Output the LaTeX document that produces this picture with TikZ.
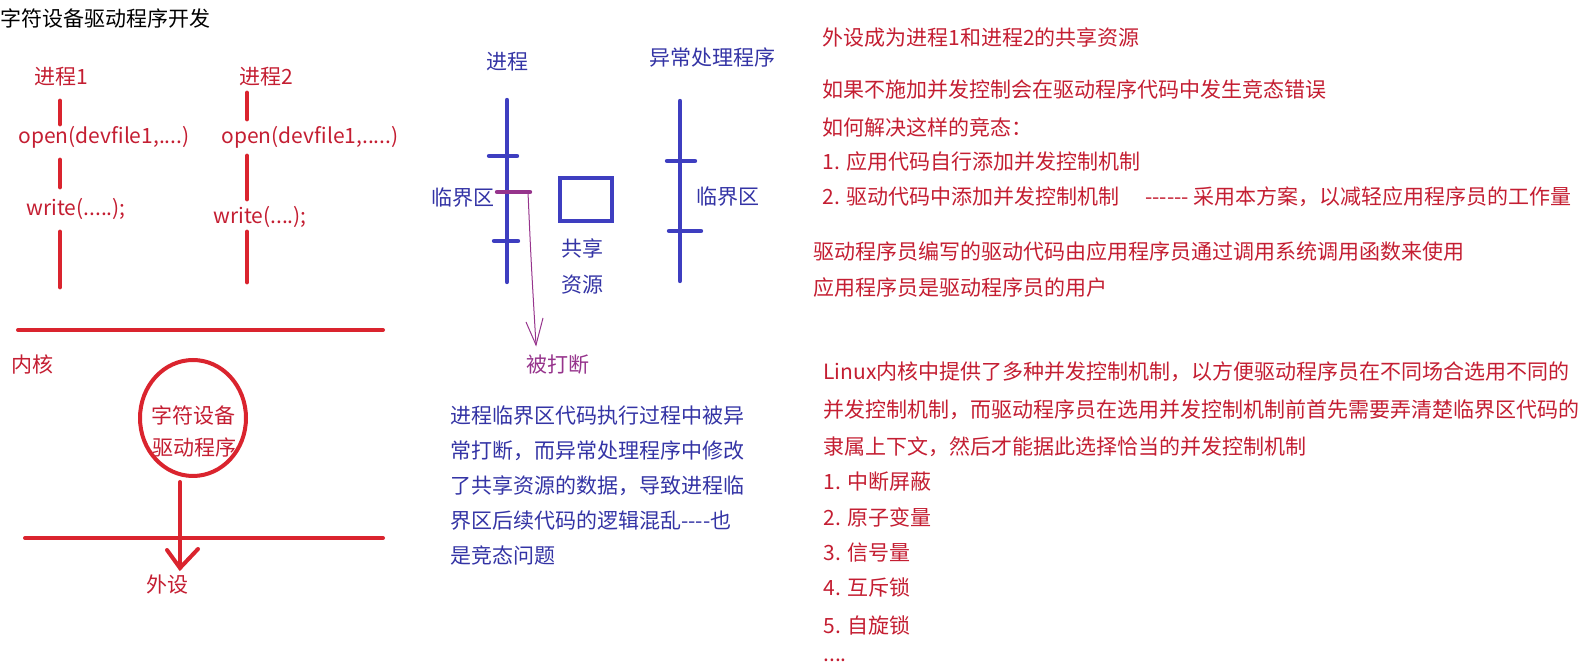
\documentclass[tikz,border=0pt]{standalone}
\usepackage{fontspec}
\setmainfont{Noto Sans CJK SC}
\usetikzlibrary{shapes.geometric}
\definecolor{rd}{RGB}{218,36,46}
\definecolor{rdt}{RGB}{196,30,50}
\definecolor{bl}{RGB}{62,62,192}
\definecolor{blt}{RGB}{52,52,165}
\definecolor{pu}{RGB}{150,52,140}
\newcommand{\hy}{-{}}
\begin{document}
\begin{tikzpicture}[x=0.5pt,y=-0.5pt,
  txt/.style={inner sep=0pt, font=\fontsize{10.5}{12}\selectfont},
  rt/.style={txt, text=rdt},
  bt/.style={txt, text=blt},
  redline/.style={draw=rd, line width=2.4pt, line cap=round},
  kline/.style={draw=rd, line width=2pt, line cap=round},
  blueline/.style={draw=bl, line width=2.2pt, line cap=round},
  purline/.style={draw=pu, line width=0.5pt},
]
\useasboundingbox (0,0) rectangle (1586,672);

% ---------- left part ----------
\node[txt, anchor=west] (title) at (0,18) {字符设备驱动程序开发};
\node[rt] (p1) at (61,77) {进程1};
\node[rt] (p2) at (266,77) {进程2};
\node[rt] (open1) at (104,137) {open(devfile1,....)};
\node[rt] (open2) at (310,137) {open(devfile1,.....)};
\node[rt] (write1) at (76,209) {write(.....);};
\node[rt] (write2) at (260,217) {write(....);};

\draw[redline] (60,101) -- (60,124);
\draw[redline] (60,160) -- (60,187);
\draw[redline] (60,232) -- (60,287);
\draw[redline] (247,93) -- (247,119);
\draw[redline] (247,156) -- (247,199);
\draw[redline] (247,232) -- (247,282);

\draw[kline] (18,330) -- (383,330);
\node[rt] (kernel) at (32,365) {内核};
\node[draw=rd, line width=2pt, ellipse, minimum width=53pt, minimum height=58pt, inner sep=0pt] (drv) at (193,418) {};
\node[rt] (drv1) at (193,415) {字符设备};
\node[rt] (drv2) at (194,448) {驱动程序};
\draw[kline] (25,538) -- (383,538);
\coordinate (dstart) at (180,482);
\coordinate (dtip) at (180,568);
\draw[kline] (dstart) -- (dtip);
\draw[kline] (167,550) -- (dtip) -- (198,549);
\node[rt] (periph) at (167,585) {外设};

% ---------- middle part ----------
\node[bt] (proc) at (507,62) {进程};
\node[bt] (handler) at (712,58) {异常处理程序};
\draw[blueline] (507,100) -- (507,282);
\draw[blueline] (489,156) -- (517,156);
\draw[blueline] (494,241) -- (518,241);
\draw[draw=pu, line width=2.2pt, line cap=round] (497,192) -- (530,192);
\node[bt] (crit1) at (463,198) {临界区};
\node[draw=bl, line width=2.2pt, minimum width=26pt, minimum height=21.5pt, inner sep=0pt] (share) at (586,199.5) {};
\node[bt] (share1) at (582,248) {共享};
\node[bt] (share2) at (582,285) {资源};
\draw[blueline] (680,101) -- (680,281);
\draw[blueline] (667,161) -- (695,161);
\draw[blueline] (669,231) -- (701,231);
\node[bt] (crit2) at (728,197) {临界区};

\coordinate (intstart) at (528,192);
\coordinate (inttip) at (536,345);
\draw[purline] (intstart) .. controls (531,260) .. (inttip);
\draw[purline] (526,322) -- (inttip) -- (543,318);
\node[txt, text=pu] (intr) at (558,365) {被打断};

\node[bt, anchor=north west, align=left, font=\fontsize{10.5}{17.5}\selectfont] (para) at (450,405) {进程临界区代码执行过程中被异\\常打断，而异常处理程序中修改\\了共享资源的数据，导致进程临\\界区后续代码的逻辑混乱\hy\hy\hy\hy 也\\是竞态问题};

% ---------- right part ----------
\node[rt, anchor=west] (r1) at (822,38) {外设成为进程1和进程2的共享资源};
\node[rt, anchor=west] (r2) at (822,90) {如果不施加并发控制会在驱动程序代码中发生竞态错误};
\node[rt, anchor=west] (r3) at (822,127) {如何解决这样的竞态：};
\node[rt, anchor=west] (r4) at (822,162) {1. 应用代码自行添加并发控制机制};
\node[rt, anchor=west] (r5) at (822,197) {2. 驱动代码中添加并发控制机制};
\node[rt, anchor=west] (r5b) at (1145,197) {\hy\hy\hy\hy\hy\hy\ 采用本方案，以减轻应用程序员的工作量};
\node[rt, anchor=west] (r6) at (813,252) {驱动程序员编写的驱动代码由应用程序员通过调用系统调用函数来使用};
\node[rt, anchor=west] (r7) at (813,288) {应用程序员是驱动程序员的用户};

\node[rt, anchor=west] (l1) at (823,372) {Linux内核中提供了多种并发控制机制，以方便驱动程序员在不同场合选用不同的};
\node[rt, anchor=west] (l2) at (823,410) {并发控制机制，而驱动程序员在选用并发控制机制前首先需要弄清楚临界区代码的};
\node[rt, anchor=west] (l3) at (823,447) {隶属上下文，然后才能据此选择恰当的并发控制机制};
\node[rt, anchor=west] (m1) at (823,482) {1. 中断屏蔽};
\node[rt, anchor=west] (m2) at (823,517) {2. 原子变量};
\node[rt, anchor=west] (m3) at (823,553) {3. 信号量};
\node[rt, anchor=west] (m4) at (823,588) {4. 互斥锁};
\node[rt, anchor=west] (m5) at (823,625) {5. 自旋锁};
\node[rt, anchor=west] (m6) at (823,660) {....};
\end{tikzpicture}
\end{document}
